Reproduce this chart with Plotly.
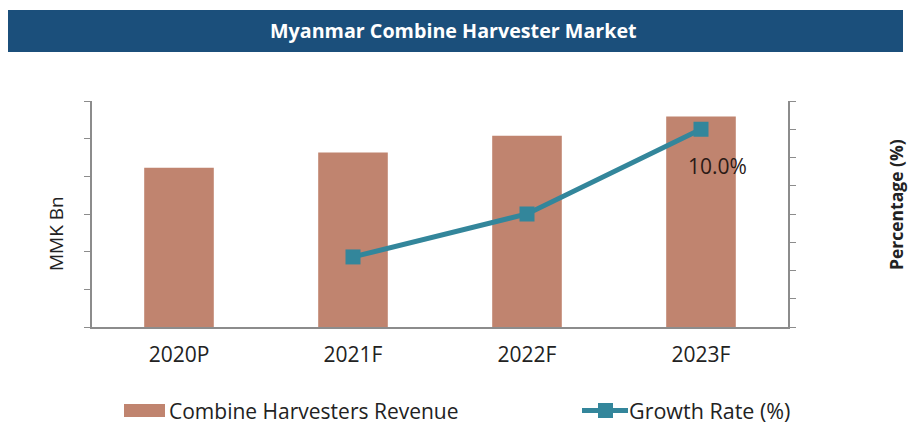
import plotly.graph_objects as go

categories = ["2020P", "2021F", "2022F", "2023F"]
revenue = [42.3, 46.3, 50.8, 55.9]
growth_cats = ["2021F", "2022F", "2023F"]
growth = [7.74, 8.5, 10.0]
label_cat = "2023F"
label_val = 10.0
label_text = "10.0%"
bar_name = "Combine Harvesters Revenue"
line_name = "Growth Rate (%)"

BAR = "#c0846f"
LINE = "#33869b"
AXIS = "#8c8c8c"
FONT = "Open Sans"
TXT = "#222222"
PW, PH = 696, 226

def px(x):
    return (x - 92) / PW

def py(y):
    return (327 - y) / PH

fig = go.Figure()
fig.add_trace(go.Bar(
    x=categories, y=revenue, name=bar_name,
    marker=dict(color=BAR, line=dict(width=0)), width=0.4, yaxis="y"))
fig.add_trace(go.Scatter(
    x=growth_cats, y=growth, name=line_name, yaxis="y2",
    mode="lines+markers",
    line=dict(color=LINE, width=5), marker=dict(symbol="square", size=15, color=LINE)))

shapes = [
    dict(type="rect", xref="paper", yref="paper", x0=px(8), x1=px(903), y0=py(52), y1=py(10),
         fillcolor="#1b4f7b", line=dict(width=0), layer="below"),
    # legend swatches
    dict(type="rect", xref="paper", yref="paper", x0=px(124), x1=px(165), y0=py(417), y1=py(404),
         fillcolor=BAR, line=dict(width=0)),
    dict(type="line", xref="paper", yref="paper", x0=px(582), x1=px(628), y0=py(410.5), y1=py(410.5),
         line=dict(color=LINE, width=5)),
    dict(type="rect", xref="paper", yref="paper", x0=px(598), x1=px(613), y0=py(418), y1=py(403),
         fillcolor=LINE, line=dict(width=0)),
]

def ann(text, x, y, size, angle=0, xanchor="center", color=TXT):
    return dict(text=text, xref="paper", yref="paper", x=px(x), y=py(y), textangle=angle,
                xanchor=xanchor, yanchor="middle", showarrow=False,
                font=dict(family=FONT, size=size, color=color))

fig.update_layout(
    width=910, height=424,
    margin=dict(l=92, r=122, t=101, b=97, autoexpand=False),
    paper_bgcolor="white", plot_bgcolor="white",
    font=dict(family=FONT, color=TXT),
    showlegend=False,
    xaxis=dict(showline=True, linecolor=AXIS, linewidth=1.5, ticks="", showgrid=False,
               ticklabelstandoff=8,
               tickfont=dict(family=FONT, size=21, color=TXT)),
    yaxis=dict(range=[0, 60], dtick=10, showticklabels=False, ticks="outside", ticklen=6,
               tickcolor=AXIS, showline=True, linecolor=AXIS, linewidth=1.5, showgrid=False,
               zeroline=False),
    yaxis2=dict(range=[6.5, 10.5], dtick=0.5, overlaying="y", side="right",
                showticklabels=False, ticks="outside", ticklen=6, tickcolor=AXIS,
                showline=True, linecolor=AXIS, linewidth=1.5, showgrid=False, zeroline=False),
    shapes=shapes,
    annotations=[
        ann("<b>Myanmar Combine Harvester Market</b>", 453, 31, 19.7, color="white"),
        ann("MMK Bn", 56, 234, 19, angle=-90),
        ann("<b>Percentage (%)</b>", 896, 205, 17.5, angle=-90),
        ann(bar_name, 167, 410.5, 21, xanchor="left"),
        ann(line_name, 627, 410.5, 21.5, xanchor="left"),
        dict(text=label_text, x=label_cat, y=label_val, xref="x", yref="y2",
             xshift=16, yshift=-37, showarrow=False, xanchor="center", yanchor="middle",
             font=dict(family=FONT, size=21, color="#2b1a16")),
    ],
)

fig.write_html("out.html", post_script="document.body.style.margin='0';",
               config={"displayModeBar": False})
